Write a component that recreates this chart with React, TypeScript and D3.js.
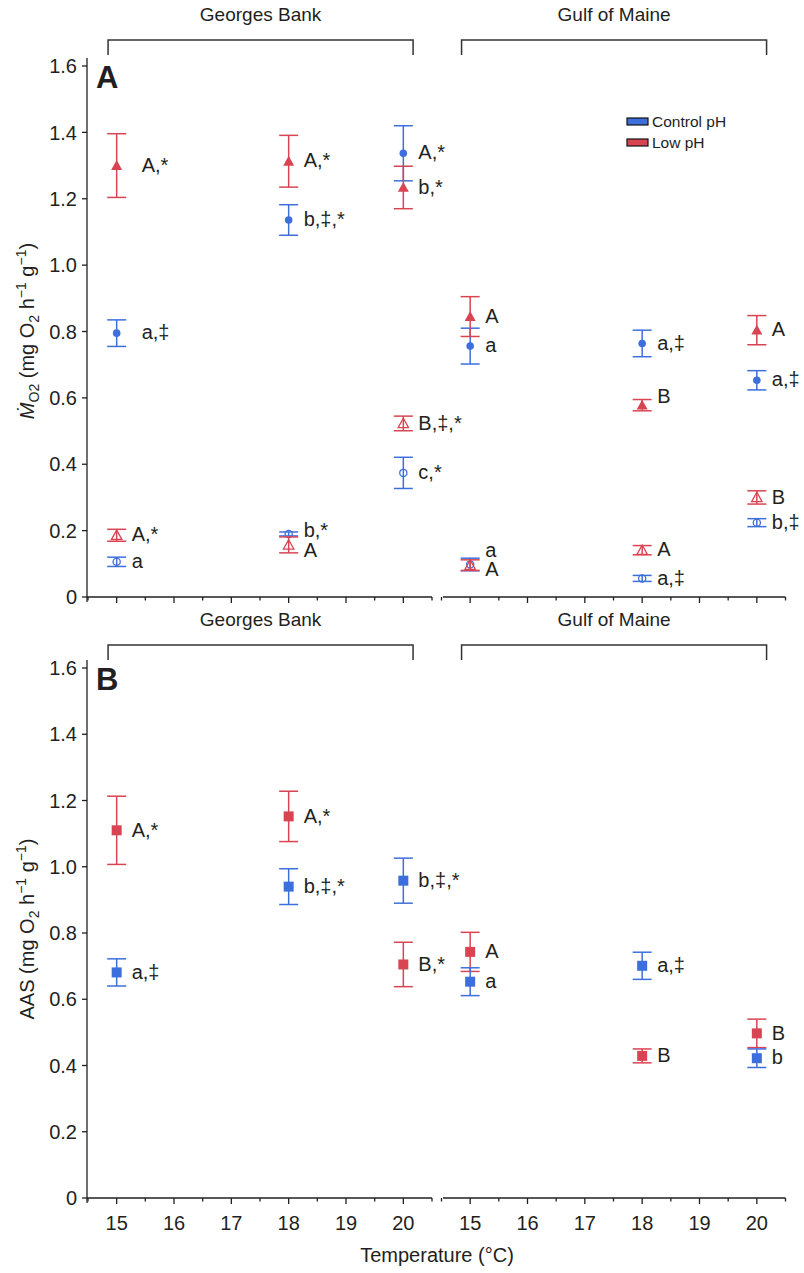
import React from 'react'
import * as d3 from 'd3'

const W = 804
const H = 1273
const FONT = 'Liberation Sans, Arial, Helvetica, sans-serif'
const BLUE = '#3d6fdc'
const RED = '#d94452'
const INK = '#231f20'

const regions = ['Georges Bank', 'Gulf of Maine']
const temps = [15, 18, 20]
const xTicks = [15, 16, 17, 18, 19, 20]
const xMinorTicks = [14.5, 15.5, 16.5, 17.5, 18.5, 19.5, 20.5]
const yTicks = [0, 0.2, 0.4, 0.6, 0.8, 1.0, 1.2, 1.4, 1.6]
const legendLabels = ['Control pH', 'Low pH']

// values are ordered Georges Bank 15, 18, 20, then Gulf of Maine 15, 18, 20
// panel A – MO2, filled = maximum, open = standard
const ctrlMax = [0.795, 1.136, 1.337, 0.756, 0.764, 0.653]
const ctrlMaxSe = [0.04, 0.046, 0.083, 0.054, 0.04, 0.029]
const ctrlMaxSig = ['a,‡', 'b,‡,*', 'A,*', 'a', 'a,‡', 'a,‡']

const lowMax = [1.3, 1.313, 1.234, 0.845, 0.578, 0.804]
const lowMaxSe = [0.096, 0.078, 0.064, 0.06, 0.017, 0.044]
const lowMaxSig = ['A,*', 'A,*', 'b,*', 'A', 'B', 'A']

const ctrlStd = [0.106, 0.19, 0.374, 0.098, 0.056, 0.224]
const ctrlStdSe = [0.014, 0.006, 0.047, 0.019, 0.009, 0.012]
const ctrlStdSig = ['a', 'b,*', 'c,*', 'a', 'a,‡', 'b,‡']

const lowStd = [0.186, 0.157, 0.523, 0.096, 0.141, 0.3]
const lowStdSe = [0.018, 0.024, 0.022, 0.016, 0.014, 0.02]
const lowStdSig = ['A,*', 'A', 'B,‡,*', 'A', 'A', 'B']

// panel B – aerobic scope
const ctrlAas = [0.681, 0.94, 0.958, 0.653, 0.701, 0.422]
const ctrlAasSe = [0.041, 0.054, 0.068, 0.042, 0.041, 0.028]
const ctrlAasSig = ['a,‡', 'b,‡,*', 'b,‡,*', 'a', 'a,‡', 'b']

const lowAas = [1.11, 1.152, 0.705, 0.743, 0.429, 0.497]
const lowAasSe = [0.103, 0.076, 0.067, 0.059, 0.021, 0.043]
const lowAasSig = ['A,*', 'A,*', 'B,*', 'A', 'B', 'B']

// small label nudges [dx, dy] where the letters sit off the point
const labelNudge = {
  'ctrlMax-0': [10, 0],
  'lowMax-0': [10, 0],
  'lowMax-4': [0, -8],
  'ctrlStd-1': [0, -3],
  'lowStd-1': [0, 6],
  'ctrlStd-3': [0, -14],
  'lowStd-3': [0, 5]
}

type Shape = 'circle' | 'triangle' | 'square'

const panelA = [
  { key: 'ctrlMax', vals: ctrlMax, se: ctrlMaxSe, sig: ctrlMaxSig, color: BLUE, shape: 'circle', filled: true },
  { key: 'lowMax', vals: lowMax, se: lowMaxSe, sig: lowMaxSig, color: RED, shape: 'triangle', filled: true },
  { key: 'ctrlStd', vals: ctrlStd, se: ctrlStdSe, sig: ctrlStdSig, color: BLUE, shape: 'circle', filled: false },
  { key: 'lowStd', vals: lowStd, se: lowStdSe, sig: lowStdSig, color: RED, shape: 'triangle', filled: false }
]

const panelB = [
  { key: 'lowAas', vals: lowAas, se: lowAasSe, sig: lowAasSig, color: RED, shape: 'square', filled: true },
  { key: 'ctrlAas', vals: ctrlAas, se: ctrlAasSe, sig: ctrlAasSig, color: BLUE, shape: 'square', filled: true }
]

const xScales = [
  d3.scaleLinear().domain([14.5, 20.5]).range([88, 432]),
  d3.scaleLinear().domain([14.5, 20.5]).range([441.5, 785.5])
]
const segStart = [87, 443]

const Marker = ({ shape, filled, color, x, y }) => {
  const fill = filled ? color : 'none'
  const sw = filled ? 0 : 1.3
  if (shape === 'circle') {
    const r = filled ? 3.8 : 3.6
    return <circle cx={x} cy={y} r={r} fill={fill} stroke={color} strokeWidth={sw} />
  }
  if (shape === 'square') {
    return <rect x={x - 5} y={y - 5} width={10} height={10} fill={color} />
  }
  const s = filled ? 5.5 : 5.2
  const pts = `${x},${y - s} ${x + s},${y + s * 0.8} ${x - s},${y + s * 0.8}`
  return <polygon points={pts} fill={fill} stroke={color} strokeWidth={sw} strokeLinejoin="miter" />
}

const Panel = ({ series, y, letter, bracketY, showXLabels, title }) => {
  const y0 = y(0)
  return (
    <g>
      {/* site brackets */}
      {regions.map((r, k) => {
        const xs = xScales[k]
        const left = xs(14.85)
        const right = xs(20.17)
        return (
          <g key={r}>
            <text x={(left + right) / 2} y={bracketY - 19} textAnchor="middle" fontSize={19} fill={INK}>{r}</text>
            <path d={`M${left},${bracketY + 15}V${bracketY}H${right}V${bracketY + 15}`} fill="none" stroke="#333" strokeWidth={1.5} />
          </g>
        )
      })}

      {/* y axis */}
      <line x1={87} x2={87} y1={y0 + 5} y2={y(1.6) - 8} stroke={INK} strokeWidth={1.3} />
      {yTicks.map(t => (
        <g key={t}>
          <line x1={82} x2={87} y1={y(t)} y2={y(t)} stroke={INK} strokeWidth={1.3} />
          <text x={77} y={y(t)} dy="0.36em" textAnchor="end" fontSize={20} fill={INK}>{t === 0 ? '0' : t.toFixed(1)}</text>
        </g>
      ))}

      {/* x axis, two segments */}
      {xScales.map((xs, k) => (
        <g key={k}>
          <line x1={segStart[k]} x2={xs(20.5)} y1={y0} y2={y0} stroke={INK} strokeWidth={1.3} />
          {xMinorTicks.map(t => (
            <line key={t} x1={xs(t)} x2={xs(t)} y1={y0} y2={y0 + 3.5} stroke={INK} strokeWidth={1.3} />
          ))}
          {xTicks.map(t => (
            <g key={t}>
              <line x1={xs(t)} x2={xs(t)} y1={y0} y2={y0 + 6} stroke={INK} strokeWidth={1.3} />
              {showXLabels && (
                <text x={xs(t)} y={y0 + 32} textAnchor="middle" fontSize={20} fill={INK}>{t}</text>
              )}
            </g>
          ))}
        </g>
      ))}

      <text x={96} y={y(1.6) + 22} fontSize={31} fontWeight="bold" fill={INK}>{letter}</text>

      {/* y title */}
      <g transform={`translate(34,${title.cy}) rotate(-90)`}>{title.node}</g>

      {/* data */}
      {series.map(s => (
        <g key={s.key}>
          {s.vals.map((v, i) => {
            const xs = xScales[i < 3 ? 0 : 1]
            const cx = xs(temps[i % 3])
            const cy = y(v)
            const lo = y(v - s.se[i])
            const hi = y(v + s.se[i])
            const nudge = labelNudge[`${s.key}-${i}`] || [0, 0]
            return (
              <g key={i}>
                <line x1={cx} x2={cx} y1={lo} y2={hi} stroke={s.color} strokeWidth={1.5} />
                <line x1={cx - 9.5} x2={cx + 9.5} y1={lo} y2={lo} stroke={s.color} strokeWidth={1.5} />
                <line x1={cx - 9.5} x2={cx + 9.5} y1={hi} y2={hi} stroke={s.color} strokeWidth={1.5} />
                <Marker shape={s.shape as Shape} filled={s.filled} color={s.color} x={cx} y={cy} />
                <text x={cx + 15 + nudge[0]} y={cy - 1 + nudge[1]} dy="0.36em" fontSize={20} fill={INK}>{s.sig[i]}</text>
              </g>
            )
          })}
        </g>
      ))}
    </g>
  )
}

const unitTail = (
  <>
    <tspan> (mg O</tspan>
    <tspan fontSize={14} dy={5}>2</tspan>
    <tspan dy={-5}> h</tspan>
    <tspan fontSize={14} dy={-8}>−1</tspan>
    <tspan dy={8}> g</tspan>
    <tspan fontSize={14} dy={-8}>−1</tspan>
    <tspan dy={8}>)</tspan>
  </>
)

const App = () => {
  const yA = d3.scaleLinear().domain([0, 1.6]).range([597, 66])
  const yB = d3.scaleLinear().domain([0, 1.6]).range([1198, 668])

  const titleA = (
    <text textAnchor="middle" fontSize={20} fill={INK}>
      <tspan fontStyle="italic">Ṁ</tspan>
      <tspan fontSize={14} dy={5}>O2</tspan>
      <tspan dy={-5}> </tspan>
      {unitTail}
    </text>
  )
  const titleB = (
    <text textAnchor="middle" fontSize={20} fill={INK}>
      <tspan>AAS</tspan>
      {unitTail}
    </text>
  )

  return (
    <svg width={W} height={H} style={{ position: 'absolute', left: 0, top: 0, background: '#fff' }} fontFamily={FONT}>
      <rect width={W} height={H} fill="#fff" />
      <Panel series={panelA} y={yA} letter="A" bracketY={40} showXLabels={false} title={{ cy: 331, node: titleA }} />
      <Panel series={panelB} y={yB} letter="B" bracketY={645} showXLabels={true} title={{ cy: 929, node: titleB }} />

      {/* legend */}
      {legendLabels.map((l, i) => (
        <g key={l} transform={`translate(627,${121.5 + i * 21})`}>
          <rect x={0} y={-3.5} width={21} height={7} fill={i === 0 ? BLUE : RED} stroke="#111" strokeWidth={1.2} />
          <text x={25} y={0} dy="0.36em" fontSize={15.5} fill={INK}>{l}</text>
        </g>
      ))}

      <text x={437} y={1262} textAnchor="middle" fontSize={20} fill={INK}>Temperature (°C)</text>
    </svg>
  )
}

export default App
